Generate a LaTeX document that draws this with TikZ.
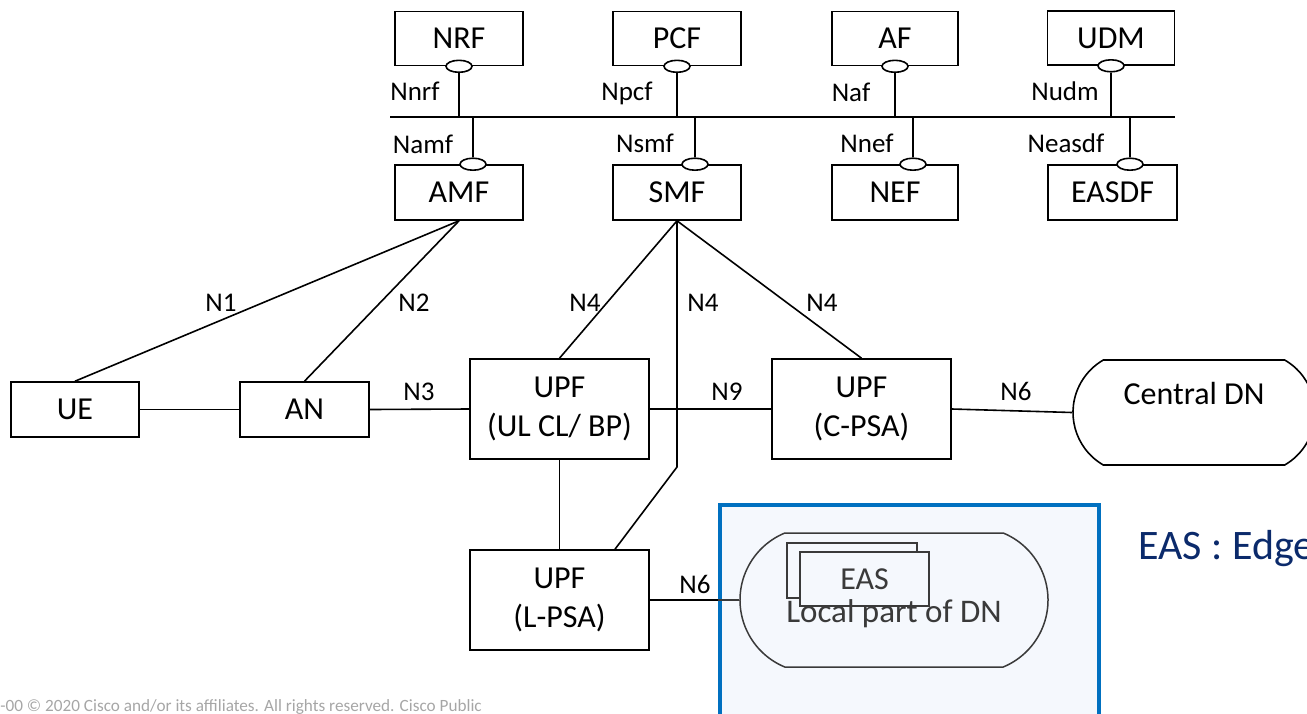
\documentclass[tikz,border=0pt]{standalone}
\usepackage{fontspec}
\setmainfont{Carlito}
\usetikzlibrary{shapes.geometric,shapes.misc,calc}
\definecolor{edgeblue}{HTML}{0070C0}
\definecolor{edgefill}{HTML}{F5F8FD}
\definecolor{navytext}{HTML}{0B2A6B}
\definecolor{dngray}{HTML}{3A3A3A}
\definecolor{copygray}{HTML}{A6A6A6}
\begin{document}
\begin{tikzpicture}[x=0.5pt,y=-0.5pt,
  link/.style={line width=0.8pt},
  nfbox/.style={draw, line width=0.8pt, inner sep=0pt, minimum height=27pt, fill=white, font=\fontsize{16}{19.5}\selectfont},
  upfbox/.style={draw, line width=0.8pt, inner sep=0pt, minimum width=89.5pt, minimum height=50pt, align=center, font=\fontsize{16}{19.5}\selectfont},
  port/.style={draw, ellipse, fill=white, line width=0.8pt, minimum width=13pt, minimum height=6pt, inner sep=0pt},
  lbl/.style={inner sep=0pt, anchor=base, font=\fontsize{13.5}{16}\selectfont},
  bigtxt/.style={inner sep=0pt, font=\fontsize{16}{19.5}\selectfont}]
\useasboundingbox (0,0) rectangle (1307,713);
\clip (0,0) rectangle (1307,713);

% edge area
\node[draw=edgeblue, line width=2pt, fill=edgefill, minimum width=189.5pt, minimum height=120pt, inner sep=0pt, anchor=north west] (edgearea) at (718,503) {};

% top NFs
\node[nfbox, minimum width=64pt] (NRF) at (459,38.5) {NRF};
\node[nfbox, minimum width=64pt] (PCF) at (677,38.5) {PCF};
\node[nfbox, minimum width=63pt] (AF) at (895,38.5) {AF};
\node[nfbox, minimum width=63.5pt] (UDM) at (1111,38) {UDM};
\node[nfbox, minimum width=64pt, minimum height=27.5pt] (AMF) at (459,192.5) {AMF};
\node[nfbox, minimum width=64pt, minimum height=27.5pt] (SMF) at (677,192.5) {SMF};
\node[nfbox, minimum width=63pt, minimum height=27.5pt] (NEF) at (895,192.5) {NEF};
\node[nfbox, minimum width=64.5pt, minimum height=27.5pt] (EASDF) at (1112.5,192.5) {EASDF};

% bus
\coordinate (busL) at (390,117);
\coordinate (busR) at (1175,117);
\draw[link] (busL) -- (busR);

\node[port] (pNRF) at (NRF.south) {};
\node[port] (pPCF) at (PCF.south) {};
\node[port] (pAF) at (AF.south) {};
\node[port] (pUDM) at (UDM.south) {};
\node[port] (pAMF) at ([xshift=7pt]AMF.north) {};
\node[port] (pSMF) at ([xshift=9pt]SMF.north) {};
\node[port] (pNEF) at ([xshift=9pt]NEF.north) {};
\node[port] (pEASDF) at ([xshift=8.75pt]EASDF.north) {};

\foreach \p in {pNRF,pPCF,pAF,pUDM}{\draw[link] (\p.south) -- (\p.south |- busL);}
\foreach \p in {pAMF,pSMF,pNEF,pEASDF}{\draw[link] (\p.north) -- (\p.north |- busL);}

\node[lbl] (lNnrf) at (415,100) {Nnrf};
\node[lbl] (lNpcf) at (627,100) {Npcf};
\node[lbl] (lNaf) at (851,101) {Naf};
\node[lbl] (lNudm) at (1065,100) {Nudm};
\node[lbl] (lNamf) at (423,153) {Namf};
\node[lbl] (lNsmf) at (645,152) {Nsmf};
\node[lbl] (lNnef) at (867,152) {Nnef};
\node[lbl] (lNeasdf) at (1066,152) {Neasdf};

% user plane
\node[nfbox, minimum width=64pt, minimum height=27.5pt] (UE) at (75,409.5) {UE};
\node[nfbox, minimum width=64.5pt, minimum height=27.5pt] (AN) at (304.5,409.5) {AN};
\node[upfbox] (ULCL) at (559.5,409) {UPF\\(UL CL/ BP)};
\node[upfbox] (CPSA) at (861.5,409) {UPF\\(C-PSA)};
\node[upfbox] (LPSA) at (559.5,600) {UPF\\(L-PSA)};

\node[draw, line width=0.8pt, rounded rectangle, rounded rectangle arc length=120, minimum width=121pt, minimum height=52.5pt, inner sep=0pt] (CDN) at (1194,412.5) {};
\node[bigtxt] (CDNtext) at (1194,393) {Central DN};

\node[draw=dngray, line width=0.75pt, rounded rectangle, rounded rectangle arc length=135, minimum width=154pt, minimum height=67pt, inner sep=0pt] (LDN) at (894,600) {};
\node[draw=dngray, line width=0.75pt, fill=edgefill, minimum width=65pt, minimum height=27.5pt, inner sep=0pt] (EASback) at (852,570.5) {};
\node[draw=dngray, line width=0.75pt, fill=edgefill, minimum width=64.5pt, minimum height=27pt, inner sep=0pt, text=dngray, font=\fontsize{16}{19.5}\selectfont] (EASfront) at (864.5,579) {EAS};
\node[bigtxt, text=dngray, font=\fontsize{16.5}{19.5}\selectfont] (LDNtext) at (894,614) {Local part of DN};

% connectors
\draw[link] (UE.north) -- (AMF.south);
\draw[link] (AN.north) -- (AMF.south);
\draw[link] (UE.east) -- (AN.west);
\draw[link] (AN.east) -- (ULCL.west);
\draw[link] (ULCL.east) -- (CPSA.west);
\draw[link] (CPSA.east) -- (CDN.west);
\draw[link] (SMF.south) -- (ULCL.north);
\draw[link] (SMF.south) -- (CPSA.north);
\coordinate (bend) at (677,467);
\draw[link] (SMF.south) -- (bend) -- ([xshift=27.75pt]LPSA.north);
\draw[link] (ULCL.south) -- (LPSA.north);
\draw[link] (LPSA.east) -- (edgearea.west |- LPSA.east);
\draw[line width=0.75pt, dngray] (edgearea.west |- LPSA.east) -- (LDN.west);

\node[lbl] (lN1) at (221,311) {N1};
\node[lbl] (lN2) at (414,311) {N2};
\node[lbl] (lN3) at (419,400) {N3};
\node[lbl] (lN4a) at (585,311) {N4};
\node[lbl] (lN4b) at (703,311) {N4};
\node[lbl] (lN4c) at (822,311) {N4};
\node[lbl] (lN9) at (727,400) {N9};
\node[lbl] (lN6c) at (1016,400) {N6};
\node[lbl] (lN6l) at (695,593) {N6};

\node[inner sep=0pt, anchor=base west, text=navytext, font=\fontsize{21}{25}\selectfont] (EASdef) at (1138,559) {EAS : Edge};

\node[inner sep=0pt, anchor=north west, text=copygray, font=\fontsize{8.6}{10}\selectfont] (copyright) at (0,699) {-00 © 2020 Cisco and/or its affiliates. All rights reserved. Cisco Public};
\end{tikzpicture}
\end{document}
